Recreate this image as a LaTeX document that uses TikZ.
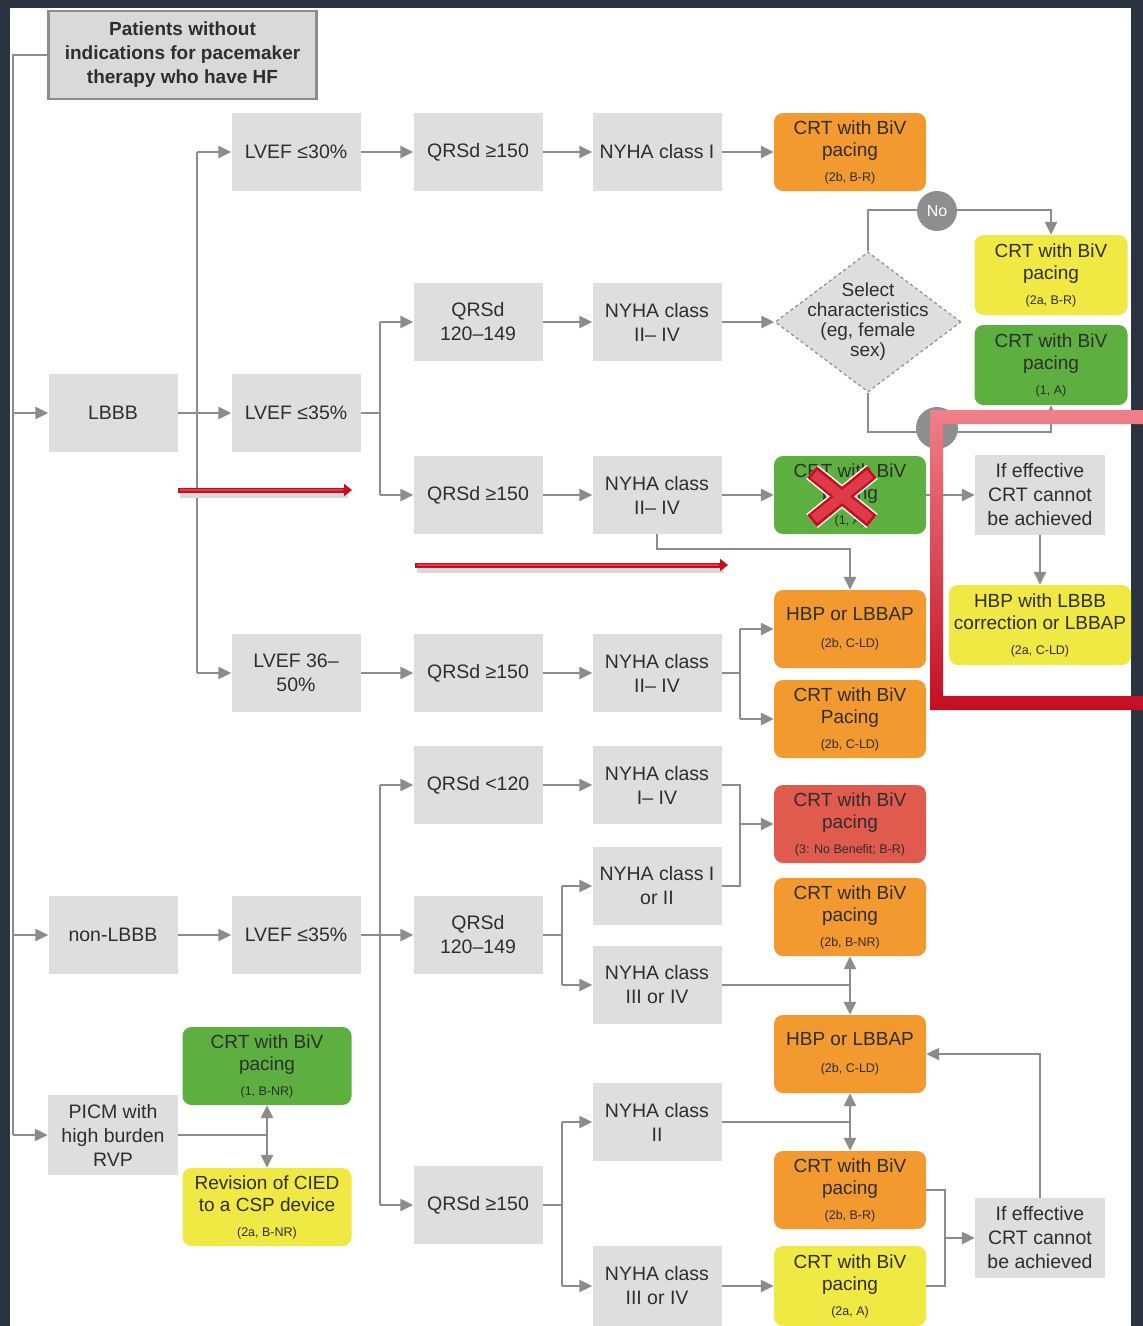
\documentclass[tikz,border=0pt]{standalone}
\usepackage{fontspec}
\setmainfont{Liberation Sans}
\usetikzlibrary{shapes.geometric,arrows.meta,calc}
\definecolor{bgdark}{HTML}{2B3340}
\definecolor{boxg}{HTML}{DEDEDE}
\definecolor{titlef}{HTML}{D9D9D9}
\definecolor{titleb}{HTML}{8C8C8C}
\definecolor{lineg}{HTML}{8C8C8C}
\definecolor{circg}{HTML}{8E8E8E}
\definecolor{orng}{HTML}{F29A30}
\definecolor{ylw}{HTML}{F1E943}
\definecolor{grn}{HTML}{5DAF40}
\definecolor{redb}{HTML}{E05A4E}
\definecolor{txt}{HTML}{2E2E2E}
\definecolor{framered}{HTML}{C40E22}
\definecolor{framemid}{HTML}{DE3A48}
\definecolor{framepink}{HTML}{EF8089}
\newcommand{\smtx}[1]{{\fontsize{12.5}{14}\selectfont #1}}
\begin{document}
\begin{tikzpicture}[x=1pt,y=-1pt,
  every node/.style={text=txt, align=center, inner sep=0pt},
  gbox/.style={font=\fontsize{19.5}{24}\selectfont, fill=boxg, minimum width=129pt, minimum height=78pt},
  cbox/.style={font=\fontsize{19}{22}\selectfont, rounded corners=9pt, minimum width=152pt, minimum height=78pt},
  obox/.style={cbox, fill=orng},
  ybox/.style={cbox, fill=ylw},
  gnbox/.style={cbox, fill=grn},
  rbox/.style={cbox, fill=redb},
  ln/.style={draw=lineg, line width=2.4pt},
  arr/.style={ln, -{Triangle[length=13pt,width=12pt]}},
  redarr/.style={draw=framered, line width=5pt, -{Triangle[length=8pt,width=12pt]}},
]
\useasboundingbox (0,0) rectangle (1143,1326);
\clip (0,0) rectangle (1143,1326);
\fill[bgdark] (0,0) rectangle (1143,1326);
\fill[white] (10,8) rectangle (1131,1330);

% ---- nodes ----
\node[draw=titleb, line width=2.5pt, fill=titlef, minimum width=268pt, minimum height=88pt,
      font=\bfseries\fontsize{19}{24}\selectfont] (title) at (182.5,55)
      {Patients without\\indications for pacemaker\\therapy who have HF};

\node[gbox] (lbbb) at (113,413) {LBBB};
\node[gbox] (lv30) at (296,152) {LVEF ≤30\%};
\node[gbox] (lv35) at (296,413) {LVEF ≤35\%};
\node[gbox] (lv3650) at (296,673) {LVEF 36–\\50\%};
\node[gbox] (q1) at (478,152) {QRSd ≥150};
\node[gbox] (q2) at (478,322) {QRSd\\120–149};
\node[gbox] (q3) at (478,495) {QRSd ≥150};
\node[gbox] (q4) at (478,673) {QRSd ≥150};
\node[gbox] (n1) at (657,152) {NYHA class I};
\node[gbox] (n2) at (657,322) {NYHA class\\II– IV};
\node[gbox] (n3) at (657,495) {NYHA class\\II– IV};
\node[gbox] (n4) at (657,673) {NYHA class\\II– IV};

\node[diamond, draw=lineg, dashed, line width=1.2pt, fill=boxg, minimum width=186pt, minimum height=140pt] (dia) at (868,322) {};
\node[font=\fontsize{19}{20}\selectfont] (diat) at (dia.center) {Select\\characteristics\\(eg, female\\sex)};

\node[obox] (crt1) at (850,152) {CRT with BiV\\pacing\\[3pt]\smtx{(2b, B-R)}};
\node[ybox, minimum width=153pt, minimum height=80pt] (ylw1) at (1051,275) {CRT with BiV\\pacing\\[3pt]\smtx{(2a, B-R)}};
\node[gnbox, minimum width=153pt, minimum height=80pt] (grn1) at (1051,365) {CRT with BiV\\pacing\\[3pt]\smtx{(1, A)}};
\node[gnbox] (gx) at (850,495) {CRT with BiV\\pacing\\[3pt]\smtx{(1, A)}};
\node[obox] (hbp1) at (850,629) {HBP or LBBAP\\[5pt]\smtx{(2b, C-LD)}};
\node[obox] (crtp) at (850,719) {CRT with BiV\\Pacing\\[3pt]\smtx{(2b, C-LD)}};
\node[gbox, minimum width=130pt, minimum height=80pt] (if1) at (1040,495) {If effective\\CRT cannot\\be achieved};
\node[ybox, minimum width=182pt, minimum height=80pt] (hbpl) at (1040,625) {HBP with LBBB\\correction or LBBAP\\[3pt]\smtx{(2a, C-LD)}};

\node[gbox] (nonl) at (113,935) {non-LBBB};
\node[gbox] (lv35b) at (296,935) {LVEF ≤35\%};
\node[gbox] (q5) at (478,785) {QRSd <120};
\node[gbox] (q6) at (478,935) {QRSd\\120–149};
\node[gbox] (q7) at (478,1205) {QRSd ≥150};
\node[gbox] (n5) at (657,785) {NYHA class\\I– IV};
\node[gbox] (n6) at (657,886) {NYHA class I\\or II};
\node[gbox] (n7) at (657,985) {NYHA class\\III or IV};
\node[gbox] (n8) at (657,1122) {NYHA class\\II};
\node[gbox, minimum height=80pt] (n9) at (657,1286) {NYHA class\\III or IV};

\node[rbox] (red3) at (850,824) {CRT with BiV\\pacing\\[3pt]\smtx{(3: No Benefit; B-R)}};
\node[obox] (crtnr) at (850,917) {CRT with BiV\\pacing\\[3pt]\smtx{(2b, B-NR)}};
\node[obox] (hbp2) at (850,1054) {HBP or LBBAP\\[5pt]\smtx{(2b, C-LD)}};
\node[obox] (crtbr) at (850,1190) {CRT with BiV\\pacing\\[3pt]\smtx{(2b, B-R)}};
\node[ybox, minimum height=80pt] (ylwa) at (850,1286) {CRT with BiV\\pacing\\[3pt]\smtx{(2a, A)}};
\node[gbox, minimum width=130pt, minimum height=80pt] (if2) at (1040,1238) {If effective\\CRT cannot\\be achieved};

\node[gbox, minimum width=130pt, minimum height=80pt] (picm) at (113,1135) {PICM with\\high burden\\RVP};
\node[gnbox, minimum width=169pt] (grnnr) at (267,1066) {CRT with BiV\\pacing\\[3pt]\smtx{(1, B-NR)}};
\node[ybox, minimum width=169pt] (rev) at (267,1207) {Revision of CIED\\to a CSP device\\[3pt]\smtx{(2a, B-NR)}};

% ---- connectors ----
\coordinate (tk) at (13,55);
\draw[ln] (title.west) -- (tk) -- (tk |- picm.west);
\draw[arr] (tk |- lbbb.west) -- (lbbb.west);
\draw[arr] (tk |- nonl.west) -- (nonl.west);
\draw[arr] (tk |- picm.west) -- (picm.west);

\coordinate (b1) at (197,413);
\draw[ln] (b1 |- lv30.west) -- (b1 |- lv3650.west);
\draw[arr] (lbbb.east) -- (lv35.west);
\draw[arr] (b1 |- lv30.west) -- (lv30.west);
\draw[arr] (b1 |- lv3650.west) -- (lv3650.west);

\coordinate (b2) at (380,413);
\draw[ln] (lv35.east) -- (b2);
\draw[ln] (b2 |- q2.west) -- (b2 |- q3.west);
\draw[arr] (b2 |- q2.west) -- (q2.west);
\draw[arr] (b2 |- q3.west) -- (q3.west);

\draw[arr] (lv30.east) -- (q1.west);
\draw[arr] (q1.east) -- (n1.west);
\draw[arr] (n1.east) -- (crt1.west);
\draw[arr] (q2.east) -- (n2.west);
\draw[arr] (n2.east) -- (dia.west);
\draw[arr] (q3.east) -- (n3.west);
\draw[arr] (n3.east) -- (gx.west);
\draw[arr] (lv3650.east) -- (q4.west);
\draw[arr] (q4.east) -- (n4.west);

\coordinate (b3) at (740,673);
\draw[ln] (n4.east) -- (b3);
\draw[ln] (b3 |- hbp1.west) -- (b3 |- crtp.west);
\draw[arr] (b3 |- hbp1.west) -- (hbp1.west);
\draw[arr] (b3 |- crtp.west) -- (crtp.west);

\draw[arr] (n3.south) -- ++(0,15) -| (hbp1.north);

\draw[arr] (dia.north) |- ($(ylw1.north)+(0,-25)$) -- (ylw1.north);
\draw[arr] (dia.south) |- ($(grn1.south)+(0,27)$) -- (grn1.south);
\node[circle, fill=circg, minimum size=40pt, text=white, font=\fontsize{16}{16}\selectfont] (no) at (937,211) {No};
\node[circle, fill=circg, minimum size=42pt] (yes) at (937,428) {};

\draw[arr] (gx.east) -- (if1.west);
\draw[arr] (if1.south) -- (hbpl.north);

\draw[arr] (nonl.east) -- (lv35b.west);
\coordinate (b4) at (380,935);
\draw[ln] (lv35b.east) -- (b4);
\draw[ln] (b4 |- q5.west) -- (b4 |- q7.west);
\draw[arr] (b4 |- q5.west) -- (q5.west);
\draw[arr] (b4) -- (q6.west);
\draw[arr] (b4 |- q7.west) -- (q7.west);

\draw[arr] (q5.east) -- (n5.west);
\coordinate (b5) at (562,935);
\draw[ln] (q6.east) -- (b5);
\draw[ln] (b5 |- n6.west) -- (b5 |- n7.west);
\draw[arr] (b5 |- n6.west) -- (n6.west);
\draw[arr] (b5 |- n7.west) -- (n7.west);
\coordinate (b6) at (562,1205);
\draw[ln] (q7.east) -- (b6);
\draw[ln] (b6 |- n8.west) -- (b6 |- n9.west);
\draw[arr] (b6 |- n8.west) -- (n8.west);
\draw[arr] (b6 |- n9.west) -- (n9.west);

\coordinate (b7) at (740,824);
\draw[ln] (n5.east) -| (b7 |- n6.east) -- (n6.east);
\draw[arr] (b7) -- (red3.west);

\coordinate (b8) at (850,985);
\draw[ln] (n7.east) -- (b8);
\draw[arr] (b8) -- (crtnr.south);
\draw[arr] (b8) -- (hbp2.north);
\coordinate (b9) at (850,1122);
\draw[ln] (n8.east) -- (b9);
\draw[arr] (b9) -- (hbp2.south);
\draw[arr] (b9) -- (crtbr.north);

\draw[arr] (n9.east) -- (ylwa.west);
\coordinate (b10) at (945,1238);
\draw[ln] (crtbr.east) -| (b10 |- ylwa.east) -- (ylwa.east);
\draw[arr] (b10) -- (if2.west);
\draw[arr] (if2.north) |- (hbp2.east);

\coordinate (b11) at (267,1135);
\draw[ln] (picm.east) -- (b11);
\draw[arr] (b11) -- (grnnr.south);
\draw[arr] (b11) -- (rev.north);

% ---- annotations ----
\draw[line width=5pt, black!15] (180,495) -- (348,495);
\draw[redarr] (178,490) -- (352,490);
\draw[line width=1.6pt, framemid] (180,490) -- (343,490);
\draw[line width=5pt, black!15] (417,570) -- (724,570);
\draw[redarr] (415,565) -- (728,565);
\draw[line width=1.6pt, framemid] (417,565) -- (719,565);

% red X
\draw[line width=18pt, white] (812,472) -- (872,521) (872,472) -- (812,521);
\draw[line width=15pt, framered] (812,472) -- (872,521) (872,472) -- (812,521);
\draw[line width=10pt, framemid] (814,474) -- (870,519) (870,474) -- (814,519);

% red frame
\path[even odd rule, top color=framepink, middle color=framemid, bottom color=framered]
  (930,410) rectangle (1180,710) (943,424) rectangle (1190,696);
\end{tikzpicture}
\end{document}
